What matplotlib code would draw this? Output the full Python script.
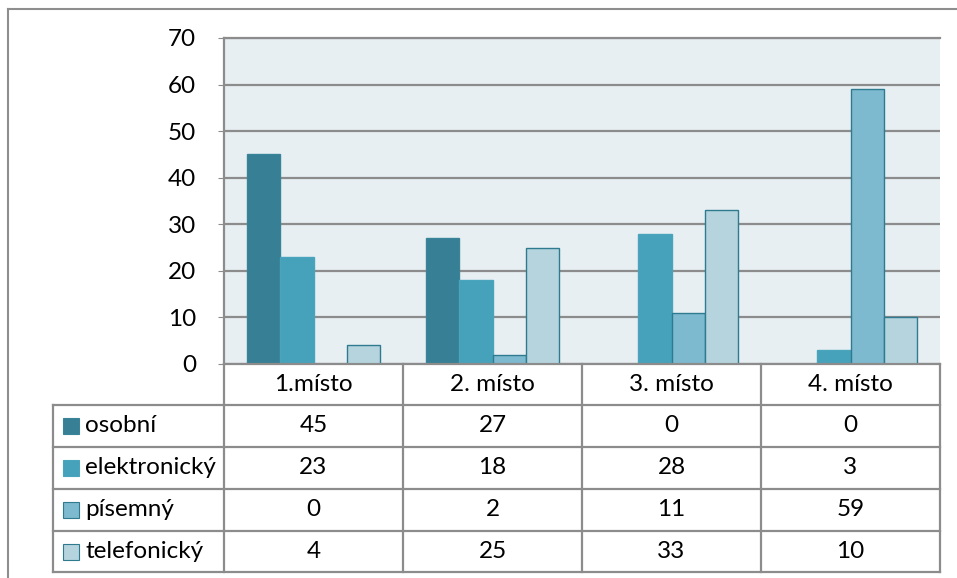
import matplotlib
matplotlib.use("Agg")
import matplotlib.pyplot as plt
from matplotlib.patches import Rectangle

categories = ["1.místo", "2. místo", "3. místo", "4. místo"]
series_names = ["osobní", "elektronický", "písemný", "telefonický"]
osobni = [45, 27, 0, 0]
elektronicky = [23, 18, 28, 3]
pisemny = [0, 2, 11, 59]
telefonicky = [4, 25, 33, 10]
series_values = [osobni, elektronicky, pisemny, telefonicky]
y_ticks = [0, 10, 20, 30, 40, 50, 60, 70]

colors = ["#367F94", "#45A2BA", "#7DB9CF", "#B5D4DE"]
edges = ["#3A8499", "#4AA4BC", "#2E7A8E", "#2E7A8E"]
grid_c = "#8C8C8C"
font = ["Lato", "DejaVu Sans"]
fs = 17.5

W, H = 957, 578
fig = plt.figure(figsize=(W / 100, H / 100), dpi=100)

# pixel-space layout of plot area and data table
px_left, px_right, px_top, px_bottom = 224, 940, 38, 364
tbl_left = 53
row_edges = [364, 405, 447, 489, 531, 572]

ax = fig.add_axes([px_left / W, 1 - px_bottom / H,
                   (px_right - px_left) / W, (px_bottom - px_top) / H])
ax.set_facecolor("#E8EFF3")
ax.set_xlim(-0.5, len(categories) - 0.5)
ax.set_ylim(0, 70)
ax.set_yticks(y_ticks)
ax.set_yticklabels([str(t) for t in y_ticks], fontfamily=font, fontsize=fs)
ax.tick_params(axis="y", length=4, color=grid_c, pad=16)
ax.tick_params(axis="x", length=0, labelbottom=False)
ax.yaxis.grid(True, color=grid_c, linewidth=1.6)
ax.set_axisbelow(True)
for s in ["right", "bottom"]:
    ax.spines[s].set_visible(False)
ax.spines["left"].set_color(grid_c)
ax.spines["left"].set_linewidth(1.6)
ax.spines["top"].set_color(grid_c)
ax.spines["top"].set_linewidth(1.6)

bw = 0.185
for j, vals in enumerate(series_values):
    xs = [i + (j - 1.5) * bw for i in range(len(categories))]
    ax.bar(xs, vals, width=bw, color=colors[j], edgecolor=edges[j],
           linewidth=1.0, zorder=3)

# outer frame of the chart
bg = fig.add_axes([0, 0, 1, 1], zorder=-1)
bg.set_xlim(0, W)
bg.set_ylim(H, 0)
bg.axis("off")
bg.plot([8, 8], [9, H], color="#8E8E8E", lw=1.5)
bg.plot([8, W], [9, 9], color="#8E8E8E", lw=1.5)

# data table below the plot, in pixel coordinates
ncol = len(categories)
col_w = (px_right - px_left) / ncol
col_edges = [px_left + k * col_w for k in range(ncol + 1)]
lc = "#8C8C8C"
lw = 1.6
tb = fig.add_axes([0, 0, 1, 1])
tb.set_xlim(0, W)
tb.set_ylim(H, 0)
tb.axis("off")
tb.plot([px_left, px_right], [row_edges[0], row_edges[0]], color=lc, lw=lw)
for y in row_edges[1:]:
    tb.plot([tbl_left, px_right], [y, y], color=lc, lw=lw)
tb.plot([tbl_left, tbl_left], [row_edges[1], row_edges[-1]], color=lc, lw=lw)
for x in col_edges:
    tb.plot([x, x], [row_edges[0], row_edges[-1]], color=lc, lw=lw)

# header row with category names
for k, cat in enumerate(categories):
    tb.text(col_edges[k] + col_w / 2, (row_edges[0] + row_edges[1]) / 2, cat,
            ha="center", va="center", fontfamily=font, fontsize=fs)

# series rows: legend key, name and values
for j, name in enumerate(series_names):
    yc = (row_edges[j + 1] + row_edges[j + 2]) / 2
    tb.add_patch(Rectangle((63, yc - 8), 16, 16, facecolor=colors[j],
                           edgecolor=edges[j] if j < 2 else "#2E7A8E", lw=0.8))
    tb.text(85, yc, name, ha="left", va="center", fontfamily=font, fontsize=fs)
    for k in range(ncol):
        tb.text(col_edges[k] + col_w / 2, yc, str(series_values[j][k]),
                ha="center", va="center", fontfamily=font, fontsize=fs)

fig.savefig("out.png", dpi=100, facecolor="white")
